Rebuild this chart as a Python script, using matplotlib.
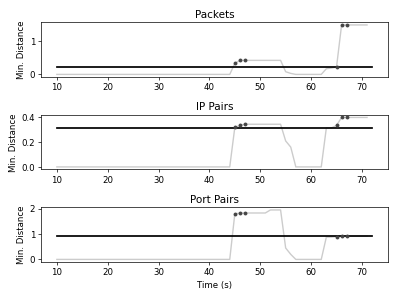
import matplotlib
matplotlib.use("Agg")
import matplotlib.pyplot as plt
import numpy as np

time = list(range(10, 72))

packets = [0.0]*35 + [0.33, 0.42, 0.42, 0.42, 0.42, 0.42, 0.42, 0.42, 0.42, 0.42,
                      0.08, 0.03, 0.0, 0.0, 0.0, 0.0, 0.0, 0.0,
                      0.17, 0.19, 0.22, 1.48, 1.48, 1.48, 1.48, 1.48, 1.48]
ip_pairs = [0.0]*35 + [0.32, 0.335, 0.345, 0.345, 0.345, 0.345, 0.345, 0.345, 0.345, 0.345,
                       0.21, 0.16, 0.0, 0.0, 0.0, 0.0, 0.0, 0.0,
                       0.315, 0.315, 0.335, 0.40, 0.40, 0.40, 0.40, 0.40, 0.40]
port_pairs = [0.0]*35 + [1.80, 1.82, 1.83, 1.83, 1.83, 1.83, 1.83, 1.95, 1.95, 1.95,
                         0.45, 0.20, 0.0, 0.0, 0.0, 0.0, 0.0, 0.0,
                         0.88, 0.88, 0.90, 0.93, 0.92, 0.92, 0.92, 0.92, 0.92]

thresholds = [0.22, 0.315, 0.92]
alert_times = [45, 46, 47, 65, 66, 67]
titles = ["Packets", "IP Pairs", "Port Pairs"]
series = [packets, ip_pairs, port_pairs]
thr_range = (10, 72)

plt.rcParams['font.size'] = 10
fig, axes = plt.subplots(3, 1, figsize=(6.4, 4.8), dpi=62.35)
for ax, title, vals, thr in zip(axes, titles, series, thresholds):
    ax.plot(time, vals, color="#cccccc", lw=1.6, zorder=1)
    ax.plot(list(thr_range), [thr, thr], color="black", lw=2, zorder=2)
    ax_vals = [vals[time.index(t)] for t in alert_times]
    ax.scatter(alert_times, ax_vals, color="#444444", s=12, zorder=3)
    ax.set_title(title)
    ax.set_ylabel("Min. Distance")
    ax.set_xticks([10, 20, 30, 40, 50, 60, 70])
axes[0].set_yticks([0, 1])
axes[1].set_yticks([0.0, 0.2, 0.4])
axes[2].set_yticks([0, 1, 2])
axes[2].set_xlabel("Time (s)")
fig.subplots_adjust(left=0.103, right=0.972, top=0.924, bottom=0.124, hspace=0.70)
fig.savefig("out.png", dpi=62.35)
